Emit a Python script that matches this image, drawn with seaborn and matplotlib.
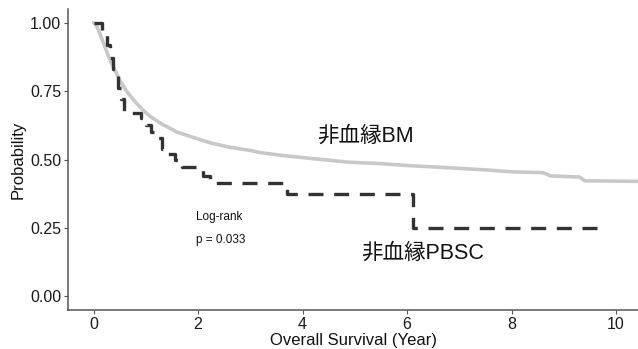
import numpy as np
import pandas as pd
import matplotlib
matplotlib.use("Agg")
import matplotlib.pyplot as plt
import seaborn as sns

# BM (unrelated bone marrow) survival curve
bm_time = [0, 0.05, 0.12, 0.2, 0.3, 0.4, 0.5, 0.63, 0.8, 0.95, 1.1, 1.3, 1.6, 2.0,
           2.25, 2.6, 3.0, 3.2, 3.6, 4.1, 4.9, 5.5, 6.0, 6.8, 7.5, 8.0, 8.6, 8.75,
           9.3, 9.4, 10.5]
bm_surv = [1.0, 0.99, 0.96, 0.92, 0.87, 0.83, 0.79, 0.75, 0.71, 0.68, 0.655, 0.63,
           0.60, 0.575, 0.56, 0.545, 0.533, 0.525, 0.515, 0.505, 0.49, 0.485, 0.478,
           0.47, 0.462, 0.455, 0.452, 0.44, 0.436, 0.422, 0.42]

# PBSC (unrelated peripheral blood stem cell) survival curve (step)
pb_time = [0, 0.17, 0.25, 0.31, 0.37, 0.46, 0.52, 0.58, 0.9, 1.0, 1.1, 1.2, 1.3,
           1.4, 1.55, 1.7, 2.1, 2.22, 3.7, 6.12, 9.8]
pb_surv = [1.0, 0.96, 0.92, 0.87, 0.83, 0.76, 0.72, 0.67, 0.65, 0.625, 0.60, 0.58,
           0.54, 0.52, 0.50, 0.473, 0.44, 0.415, 0.375, 0.25, 0.25]

x_ticks = [0, 2, 4, 6, 8, 10]
y_ticks = [0.0, 0.25, 0.5, 0.75, 1.0]
y_labels = ["0.00", "0.25", "0.50", "0.75", "1.00"]

sns.set_theme(style="white")
plt.rcParams["font.family"] = ["Liberation Sans", "Noto Sans CJK JP", "DejaVu Sans"]

fig, ax = plt.subplots(figsize=(6.38, 3.49), dpi=100)
fig.subplots_adjust(left=68/638, right=1.0, top=1-9/349, bottom=1-310/349)

bm = pd.DataFrame({"time": bm_time, "surv": bm_surv})
pb = pd.DataFrame({"time": pb_time, "surv": pb_surv})

sns.lineplot(data=bm, x="time", y="surv", ax=ax, color="#c8c8c8", linewidth=2.6,
             estimator=None, sort=False)
sns.lineplot(data=pb, x="time", y="surv", ax=ax, color="#333333", linewidth=2.4,
             estimator=None, sort=False, drawstyle="steps-post",
             dashes=False)
ax.lines[-1].set_dashes([4.5, 3.2])

ax.set_xlim(-0.49, 10.42)
ax.set_ylim(-0.05, 1.05)
ax.set_xticks(x_ticks)
ax.set_yticks(y_ticks)
ax.set_yticklabels(y_labels)
ax.tick_params(axis="both", which="both", direction="out", length=3, width=0.8,
               colors="#555555", labelsize=11.5, labelcolor="#1a1a1a",
               bottom=True, left=True, pad=2)
ax.set_xlabel("Overall Survival (Year)", fontsize=12, color="#111111", labelpad=1)
ax.set_ylabel("Probability", fontsize=12, color="#111111", labelpad=3)

for side in ["top", "right"]:
    ax.spines[side].set_visible(False)
for side in ["left", "bottom"]:
    ax.spines[side].set_color("#555555")
    ax.spines[side].set_linewidth(1.1)

ax.text(5.2, 0.585, "非血縁BM", fontsize=15.5, ha="center", va="center", color="#111111")
ax.text(6.29, 0.157, "非血縁PBSC", fontsize=15.5, ha="center", va="center", color="#111111")
ax.text(1.96, 0.29, "Log-rank", fontsize=8.5, ha="left", va="center", color="#111111")
ax.text(1.96, 0.207, "p = 0.033", fontsize=8.5, ha="left", va="center", color="#111111")

fig.savefig("out.png", dpi=100)
